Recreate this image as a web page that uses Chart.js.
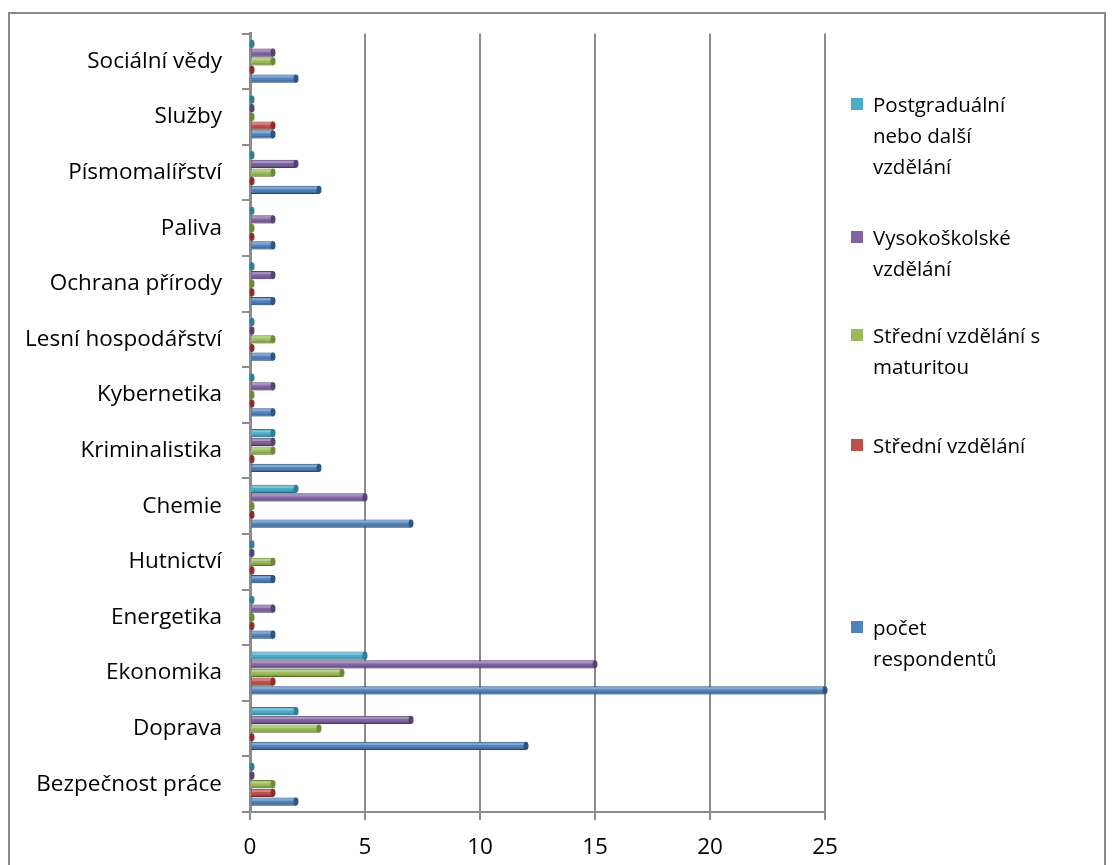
<!DOCTYPE html>
<html>
<head>
<meta charset="utf-8">
<script src="https://cdn.jsdelivr.net/npm/chart.js@4"></script>
<style>
    body { margin: 0; background: #fff; }
    #wrap { position: relative; width: 1119px; height: 865px; overflow: hidden; }
    #frame { position: absolute; left: 8px; top: 12px; width: 1098px; height: 880px; border: 2px solid #8a8a8a; box-sizing: border-box; }
    #chartBox { position: absolute; left: 0; top: 0; width: 1119px; height: 865px; }
    .leg { position: absolute; left: 873px; font-family: "Open Sans", sans-serif; font-size: 20.5px; line-height: 31px; color: #000; }
    .leg i { position: absolute; left: -22px; top: 9px; width: 12px; height: 12px; }
</style>
</head>
<body>
<div id="wrap">
    <div id="frame"></div>
    <div id="chartBox"><canvas id="chart"></canvas></div>
    <div id="legend"></div>
</div>
<script>
// obory, zdola nahoru
const categories = ["Bezpečnost práce", "Doprava", "Ekonomika", "Energetika", "Hutnictví", "Chemie",
    "Kriminalistika", "Kybernetika", "Lesní hospodářství", "Ochrana přírody", "Paliva",
    "Písmomalířství", "Služby", "Sociální vědy"];

const respondenti    = [2, 12, 25, 1, 1, 7, 3, 1, 1, 1, 1, 3, 1, 2];
const stredni        = [1, 0, 1, 0, 0, 0, 0, 0, 0, 0, 0, 0, 1, 0];
const maturita       = [1, 3, 4, 0, 1, 0, 1, 0, 1, 0, 0, 1, 0, 1];
const vysokoskolske  = [0, 7, 15, 1, 0, 5, 1, 1, 0, 1, 1, 2, 0, 1];
const postgradualni  = [0, 2, 5, 0, 0, 2, 1, 0, 0, 0, 0, 0, 0, 0];

const xTicks = [0, 5, 10, 15, 20, 25];

// pořadí v legendě odshora
const series = [
    { label: ["Postgraduální", "nebo další", "vzdělání"], data: postgradualni, color: "#4BACC6", edge: "#2e7f95", y: 104 },
    { label: ["Vysokoškolské", "vzdělání"], data: vysokoskolske, color: "#8064A2", edge: "#574274", y: 237 },
    { label: ["Střední vzdělání s", "maturitou"], data: maturita, color: "#9BBB59", edge: "#6c8a34", y: 335 },
    { label: ["Střední vzdělání"], data: stredni, color: "#C0504D", edge: "#8c2e2c", y: 445 },
    { label: ["počet", "respondentů"], data: respondenti, color: "#4F81BD", edge: "#2c5585", y: 627 }
];

// legenda vpravo
const legend = document.getElementById("legend");
series.forEach(s => {
    const div = document.createElement("div");
    div.className = "leg";
    div.style.top = (s.y - 15.5) + "px";
    div.innerHTML = `<i style="background:${s.color}"></i>` + s.label.join("<br>");
    legend.appendChild(div);
});

// lesk na válcových sloupcích
const cylinder = {
    id: "cylinder",
    afterDatasetsDraw(chart) {
        const ctx = chart.ctx;
        chart.data.datasets.forEach((ds, i) => {
            const meta = chart.getDatasetMeta(i);
            meta.data.forEach(bar => {
                const h = bar.height;
                const top = bar.y - h / 2;
                ctx.save();
                ctx.fillStyle = "rgba(255,255,255,0.3)";
                ctx.fillRect(bar.base + 1, top + h * 0.15, bar.x - bar.base - 2, h * 0.25);
                ctx.fillStyle = "rgba(0,0,0,0.15)";
                ctx.fillRect(bar.base + 1, top + h * 0.7, bar.x - bar.base - 2, h * 0.3);
                ctx.beginPath();
                ctx.ellipse(bar.x, bar.y, 2.5, h / 2, 0, 0, Math.PI * 2);
                ctx.fillStyle = ds.borderColor;
                ctx.fill();
                ctx.restore();
            });
        });
    }
};

const ctx = document.getElementById("chart").getContext("2d");
new Chart(ctx, {
    type: "bar",
    data: {
        labels: categories,
        datasets: series.map(s => ({
            label: s.label.join(" "),
            data: s.data,
            backgroundColor: s.color,
            borderColor: s.edge,
            borderWidth: 1,
            minBarLength: 2,
            barPercentage: 0.95,
            categoryPercentage: 0.78
        }))
    },
    options: {
        indexAxis: "y",
        responsive: true,
        maintainAspectRatio: false,
        animation: false,
        layout: { padding: { left: 0, right: 294, top: 27, bottom: 0 } },
        plugins: {
            legend: { display: false },
            tooltip: { enabled: false }
        },
        scales: {
            x: {
                min: 0,
                max: 25,
                afterBuildTicks: axis => { axis.ticks = xTicks.map(v => ({ value: v })); },
                afterFit: axis => { axis.height = 53; },
                grid: { color: "#8c8c8c", lineWidth: 2, tickLength: 8 },
                border: { color: "#8c8c8c", width: 2 },
                ticks: { color: "#000", padding: 14, font: { family: "Open Sans", size: 22.5 } }
            },
            y: {
                reverse: true,
                afterFit: axis => { axis.width = 250; },
                grid: { offset: true, drawOnChartArea: false, color: "#8c8c8c", lineWidth: 2, tickLength: 8 },
                border: { color: "#8c8c8c", width: 3 },
                ticks: { color: "#000", padding: 20, font: { family: "Open Sans", size: 22.5 } }
            }
        }
    },
    plugins: [cylinder]
});
</script>
</body>
</html>
